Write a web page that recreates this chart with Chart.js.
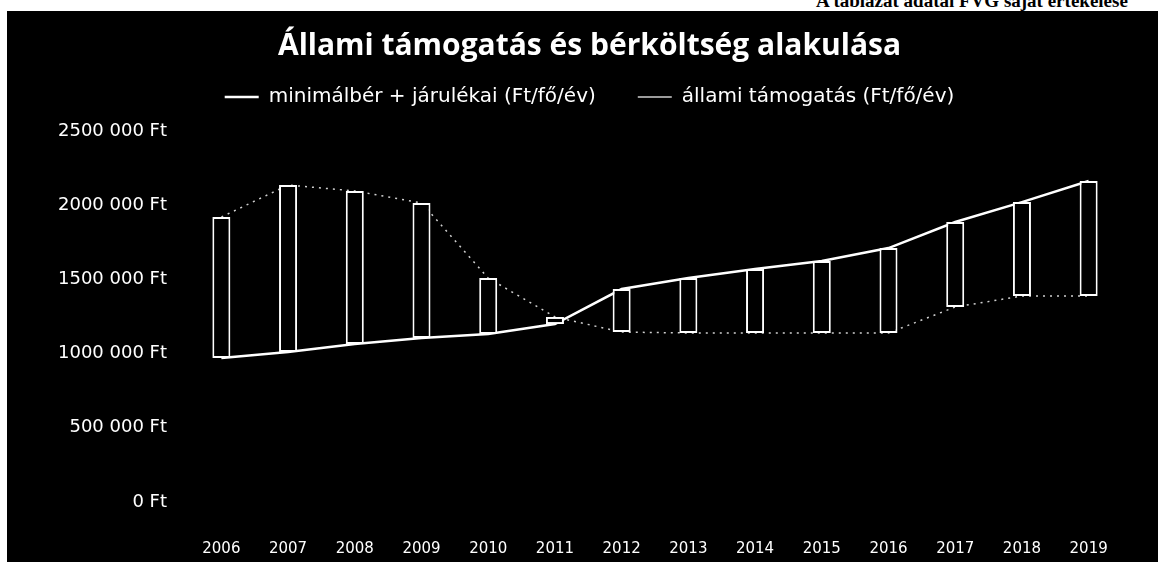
<!DOCTYPE html>
<html>
<head>
<meta charset="utf-8">
<script src="https://cdn.jsdelivr.net/npm/chart.js@4/dist/chart.umd.min.js"></script>
<style>
  html, body { margin: 0; padding: 0; background: #fff; width: 1158px; height: 562px; overflow: hidden; }
  #note { position: absolute; left: 816px; top: -10px; font: bold 19px "Liberation Serif", serif; color: #000; white-space: nowrap; }
  #wrap { position: absolute; left: 7px; top: 11px; width: 1151px; height: 551px; background: #000; }
  canvas { display: block; }
</style>
</head>
<body>
<div id="note">A táblázat adatai FVG saját értékelése</div>
<div id="wrap"><canvas id="c" width="1151" height="551"></canvas></div>
<script>
const years = ['2006','2007','2008','2009','2010','2011','2012','2013','2014','2015','2016','2017','2018','2019'];
const minWage = [970000, 1011000, 1065000, 1105000, 1132000, 1199000, 1435000, 1509000, 1570000, 1624000, 1711000, 1887000, 2021000, 2163000];
const stateSupport = [1920000, 2136000, 2096000, 2015000, 1509000, 1247000, 1145000, 1139000, 1139000, 1139000, 1139000, 1314000, 1388000, 1388000];
const yTickLabels = ['0 Ft', '500 000 Ft', '1000 000 Ft', '1500 000 Ft', '2000 000 Ft', '2500 000 Ft'];
const seriesNames = ['minimálbér + járulékai (Ft/fő/év)', 'állami támogatás (Ft/fő/év)'];
const titleText = 'Állami támogatás és bérköltség alakulása';

const upDown = years.map((y, i) => [Math.min(minWage[i], stateSupport[i]), Math.max(minWage[i], stateSupport[i])]);

// keep the legend block at a fixed height so the plot starts where the reference's does
const legendHeight = {
  id: 'legendHeight',
  afterInit(chart) {
    const lg = chart.legend;
    if (!lg) return;
    const orig = lg.fit;
    lg.fit = function () { orig.call(this); this.height = 86; };
  }
};

new Chart(document.getElementById('c'), {
  data: {
    labels: years,
    datasets: [
      {
        type: 'bar',
        label: 'updown',
        data: upDown,
        backgroundColor: '#000',
        borderColor: '#fff',
        borderWidth: 2,
        borderSkipped: false,
        barPercentage: 0.27,
        categoryPercentage: 1,
        order: 0
      },
      {
        type: 'line',
        label: seriesNames[0],
        data: minWage,
        borderColor: '#fff',
        backgroundColor: '#fff',
        borderWidth: 2.5,
        pointRadius: 0,
        tension: 0,
        order: 1
      },
      {
        type: 'line',
        label: seriesNames[1],
        data: stateSupport,
        borderColor: '#cfcfcf',
        backgroundColor: '#cfcfcf',
        borderWidth: 1.5,
        borderDash: [2, 5],
        pointRadius: 0,
        tension: 0,
        order: 2
      }
    ]
  },
  plugins: [legendHeight],
  options: {
    responsive: false,
    animation: false,
    layout: { padding: { left: 50, right: 36, top: 17, bottom: 0 } },
    plugins: {
      tooltip: { enabled: false },
      title: {
        display: true,
        text: titleText,
        color: '#fff',
        font: { family: 'Open Sans', size: 30, weight: 'bold', lineHeight: 1.2 },
        padding: { top: 0, bottom: -19 }
      },
      legend: {
        display: true,
        position: 'top',
        labels: {
          filter: (item) => item.text !== 'updown',
          color: '#fff',
          font: { family: 'DejaVu Sans', size: 20 },
          usePointStyle: true,
          pointStyle: 'line',
          pointStyleWidth: 34,
          boxHeight: 2,
          padding: 42
        }
      }
    },
    scales: {
      x: {
        grid: { display: false },
        border: { display: false },
        afterFit: (s) => { s.height = 60; },
        ticks: { color: '#fff', font: { family: 'DejaVu Sans', size: 15 }, padding: 30, maxRotation: 0 }
      },
      y: {
        min: 0,
        max: 2500000,
        grid: { display: false },
        border: { display: false },
        afterFit: (s) => { s.width = 131; },
        ticks: {
          stepSize: 500000,
          color: '#fff',
          padding: 13,
          font: { family: 'DejaVu Sans', size: 18 },
          callback: (v) => yTickLabels[Math.round(v / 500000)]
        }
      }
    }
  }
});
</script>
</body>
</html>
